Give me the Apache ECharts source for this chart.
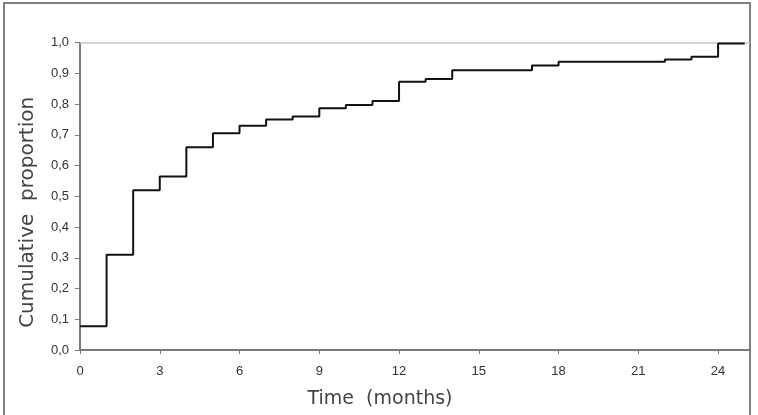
<!DOCTYPE html>
<html>
<head>
<meta charset="utf-8">
<script src="https://cdn.jsdelivr.net/npm/echarts@6/dist/echarts.min.js"></script>
<style>html,body{margin:0;padding:0;background:#fff;}#c{width:758px;height:415px;}</style>
</head>
<body>
<div id="c"></div>
<script>
var months = [0,1,2,3,4,5,6,7,8,9,10,11,12,13,14,15,16,17,18,19,20,21,22,23,24,25];
var cumulative = [0.077,0.31,0.52,0.565,0.66,0.705,0.73,0.75,0.76,0.787,0.797,0.81,0.873,0.882,0.91,0.91,0.91,0.926,0.938,0.938,0.938,0.938,0.945,0.954,0.997,0.997];
var xTicks = [0,3,6,9,12,15,18,21,24];
var yTicks = [0,0.1,0.2,0.3,0.4,0.5,0.6,0.7,0.8,0.9,1.0];

var data = months.map(function(m,i){return [m, cumulative[i]];});
var chart = echarts.init(document.getElementById('c'), null, {renderer:'canvas'});
chart.setOption({
  animation:false,
  backgroundColor:'#fff',
  grid:{left:80, top:42.7, right:8, bottom:65, containLabel:false},
  graphic:[{type:'rect', shape:{x:4, y:3, width:746, height:420}, style:{fill:'none', stroke:'#808080', lineWidth:2}, z:-1}],
  xAxis:{
    type:'value', min:0, max:25.2, interval:3,
    name:'Time  (months)', nameLocation:'middle', nameGap:40,
    nameTextStyle:{fontFamily:'DejaVu Sans', fontSize:19, color:'#444', padding:[0,70,0,0]},
    axisLine:{show:true, onZero:false, lineStyle:{color:'#7a7a7a', width:2}},
    axisTick:{show:true, length:4, lineStyle:{color:'#7a7a7a', width:1}, customValues: xTicks},
    axisLabel:{fontFamily:'Liberation Sans', fontSize:13, color:'#333', margin:15, customValues: xTicks},
    splitLine:{show:false}
  },
  yAxis:{
    type:'value', min:0, max:1, interval:0.1,
    name:'Cumulative  proportion', nameLocation:'middle', nameGap:42,
    nameTextStyle:{fontFamily:'DejaVu Sans', fontSize:20, color:'#444', padding:[0,32,0,0]},
    axisLine:{show:true, lineStyle:{color:'#7a7a7a', width:2}},
    axisTick:{show:true, length:5, lineStyle:{color:'#7a7a7a', width:1}, customValues: yTicks},
    axisLabel:{fontFamily:'Liberation Sans', fontSize:13, color:'#333', margin:11, customValues: yTicks,
      formatter:function(v){return v.toFixed(1).replace('.',',');}},
    splitLine:{show:false}
  },
  series:[{
    type:'line', step:'end', data:data, symbol:'none',
    lineStyle:{color:'#111', width:2},
    markLine:{silent:true, symbol:['none','none'], label:{show:false},
      lineStyle:{color:'#c4c4c4', width:1.5, type:'solid'}, data:[{yAxis:1}], z:1}
  }]
});
</script>
</body>
</html>
